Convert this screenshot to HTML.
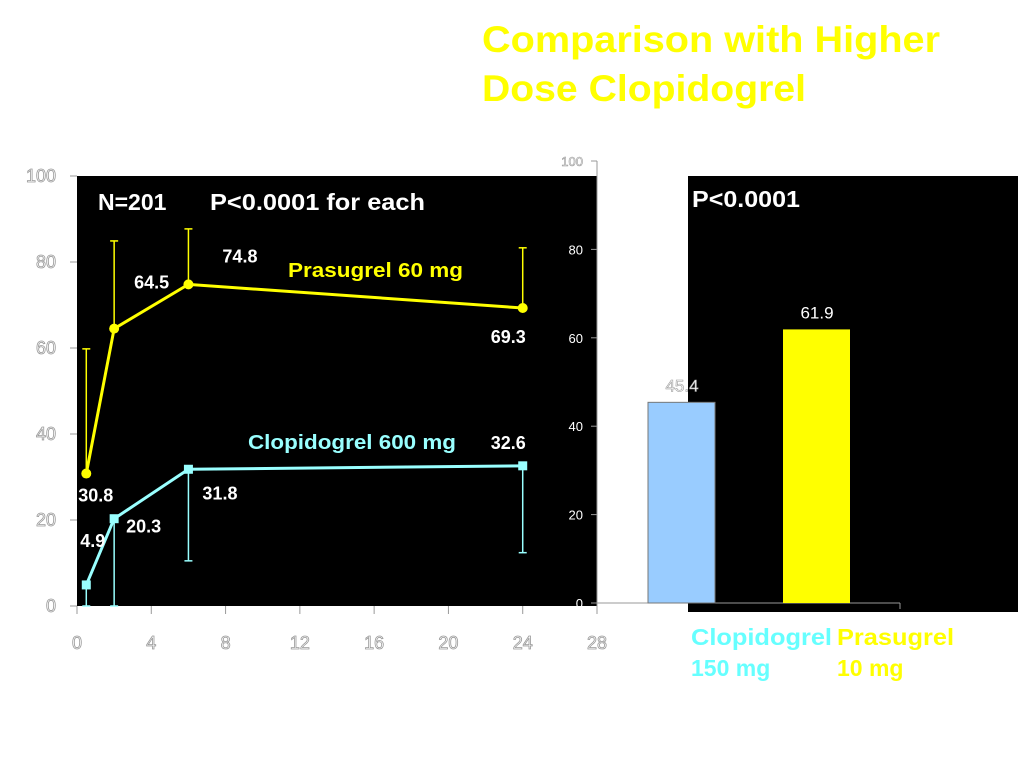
<!DOCTYPE html>
<html><head><meta charset="utf-8"><style>
body{margin:0;background:#fff;}
svg{display:block;font-family:"Liberation Sans",Arial,sans-serif;}
.ol{fill:#fff;stroke:#999;stroke-width:0.8;font-size:18px;}
.w{fill:#fff;font-weight:bold;font-size:18px;}
</style></head><body>
<svg id="c" width="1024" height="768">
<text x="482" y="52" fill="#ffff00" font-size="37" font-weight="bold" textLength="458" lengthAdjust="spacingAndGlyphs">Comparison with Higher</text>
<text x="482" y="101" fill="#ffff00" font-size="37" font-weight="bold" textLength="324" lengthAdjust="spacingAndGlyphs">Dose Clopidogrel</text>
<rect x="77" y="176" width="520" height="430" fill="#000"/>
<rect x="688" y="176" width="330" height="436" fill="#000"/>
<g id="left"></g>
<g id="right"></g>
<text x="98" y="210" class="w" style="font-size:23px">N=201</text>
<text x="210" y="210" class="w" style="font-size:23px" textLength="215" lengthAdjust="spacingAndGlyphs">P&lt;0.0001 for each</text>
<text x="288" y="277" fill="#ffff00" font-weight="bold" font-size="20" textLength="175" lengthAdjust="spacingAndGlyphs">Prasugrel 60 mg</text>
<text x="248" y="449" fill="#99ffff" font-weight="bold" font-size="20" textLength="208" lengthAdjust="spacingAndGlyphs">Clopidogrel 600 mg</text>
<text x="692" y="207" class="w" style="font-size:23px" textLength="108" lengthAdjust="spacingAndGlyphs">P&lt;0.0001</text>
<text x="691" y="645" fill="#66ffff" font-weight="bold" font-size="23" textLength="141" lengthAdjust="spacingAndGlyphs">Clopidogrel</text>
<text x="691" y="676" fill="#66ffff" font-weight="bold" font-size="23">150 mg</text>
<text x="837" y="645" fill="#ffff00" font-weight="bold" font-size="23" textLength="117" lengthAdjust="spacingAndGlyphs">Prasugrel</text>
<text x="837" y="676" fill="#ffff00" font-weight="bold" font-size="23">10 mg</text>
</svg>
<script>
const hours=[0.5,2,6,24];
const prasugrel=[30.8,64.5,74.8,69.3];
const prasugrelUpper=[59.8,84.9,87.7,83.3];
const clopidogrel=[4.9,20.3,31.8,32.6];
const clopidogrelLower=[0,0,10.5,12.4];
const xTicks=[0,4,8,12,16,20,24,28];
const yTicks=[0,20,40,60,80,100];
const barCats=["Clopidogrel 150 mg","Prasugrel 10 mg"];
const barVals=[45.4,61.9];
const rTicks=[0,20,40,60,80,100];

const NS="http://www.w3.org/2000/svg";
function mk(p,t,a,txt){const e=document.createElementNS(NS,t);for(const k in a)e.setAttribute(k,a[k]);if(txt!==undefined)e.textContent=txt;p.appendChild(e);return e;}
const X=h=>77+h*520/28, Y=v=>606-v*4.3;
const L=document.getElementById('left');
yTicks.forEach(v=>{
 let t=mk(L,'line',{x1:70,x2:77,y1:Y(v),y2:Y(v),stroke:'#999'});
 
 let l=mk(L,'text',{x:56,y:Y(v)+6,class:'ol','text-anchor':'end'},v);
 
});
xTicks.forEach(v=>{
 let t=mk(L,'line',{x1:X(v),x2:X(v),y1:606,y2:614,stroke:'#999'});
 
 let l=mk(L,'text',{x:X(v),y:649,class:'ol','text-anchor':'middle'},v);
 
});
function series(vals,err,color,name,square){
 hours.forEach((h,i)=>{
  let e=mk(L,'line',{x1:X(h),x2:X(h),y1:Y(vals[i]),y2:Y(err[i]),stroke:color,'stroke-width':1.5});
  
  let c=mk(L,'line',{x1:X(h)-4,x2:X(h)+4,y1:Y(err[i]),y2:Y(err[i]),stroke:color,'stroke-width':1.5});
  
 });
 let ln=mk(L,'polyline',{points:hours.map((h,i)=>X(h)+','+Y(vals[i])).join(' '),fill:'none',stroke:color,'stroke-width':3});
 
 hours.forEach((h,i)=>{
  let m=square?mk(L,'rect',{x:X(h)-4.5,y:Y(vals[i])-4.5,width:9,height:9,fill:color}):mk(L,'circle',{cx:X(h),cy:Y(vals[i]),r:5,fill:color});
  
 });
}
series(prasugrel,prasugrelUpper,'#ffff00','prasugrel',false);
series(clopidogrel,clopidogrelLower,'#99ffff','clopidogrel',true);
const pOff=[[-8,28],[20,-40],[34,-22],[-32,35]];
hours.forEach((h,i)=>{let t=mk(L,'text',{x:X(h)+pOff[i][0],y:Y(prasugrel[i])+pOff[i][1],class:'w'},prasugrel[i].toFixed(1));
 });
const cOff=[[-6,-38],[12,14],[14,30],[-32,-17]];
hours.forEach((h,i)=>{let t=mk(L,'text',{x:X(h)+cOff[i][0],y:Y(clopidogrel[i])+cOff[i][1],class:'w'},clopidogrel[i].toFixed(1));
 });

const R=document.getElementById('right');
const RY=v=>603-v*4.42;
let ax=mk(R,'line',{x1:597,x2:597,y1:161,y2:612,stroke:'#999'});

let bx=mk(R,'line',{x1:597,x2:900,y1:603,y2:603,stroke:'#999'});

mk(R,'line',{x1:900,x2:900,y1:603,y2:609,stroke:'#999'});
rTicks.forEach(v=>{
 let t=mk(R,'line',{x1:591,x2:597,y1:RY(v),y2:RY(v),stroke:'#999'});
 
 let l=mk(R,'text',{x:583,y:RY(v)+5,'text-anchor':'end','font-size':13,fill:'#fff',stroke:v==100?'#999':'none','stroke-width':0.6},v);
 
});
const barX=[648,783], barColors=['#99ccff','#ffff00'];
barVals.forEach((v,i)=>{
 let b=mk(R,'rect',{x:barX[i],y:RY(v),width:67,height:603-RY(v),fill:barColors[i],stroke:i==0?'#777':'none'});
 
 let t=mk(R,'text',{x:barX[i]+34,y:RY(v)-11,'text-anchor':'middle','font-size':17,fill:'#fff',stroke:i==0?'#999':'none','stroke-width':0.6},v.toFixed(1));
 
});
</script>
</body></html>
